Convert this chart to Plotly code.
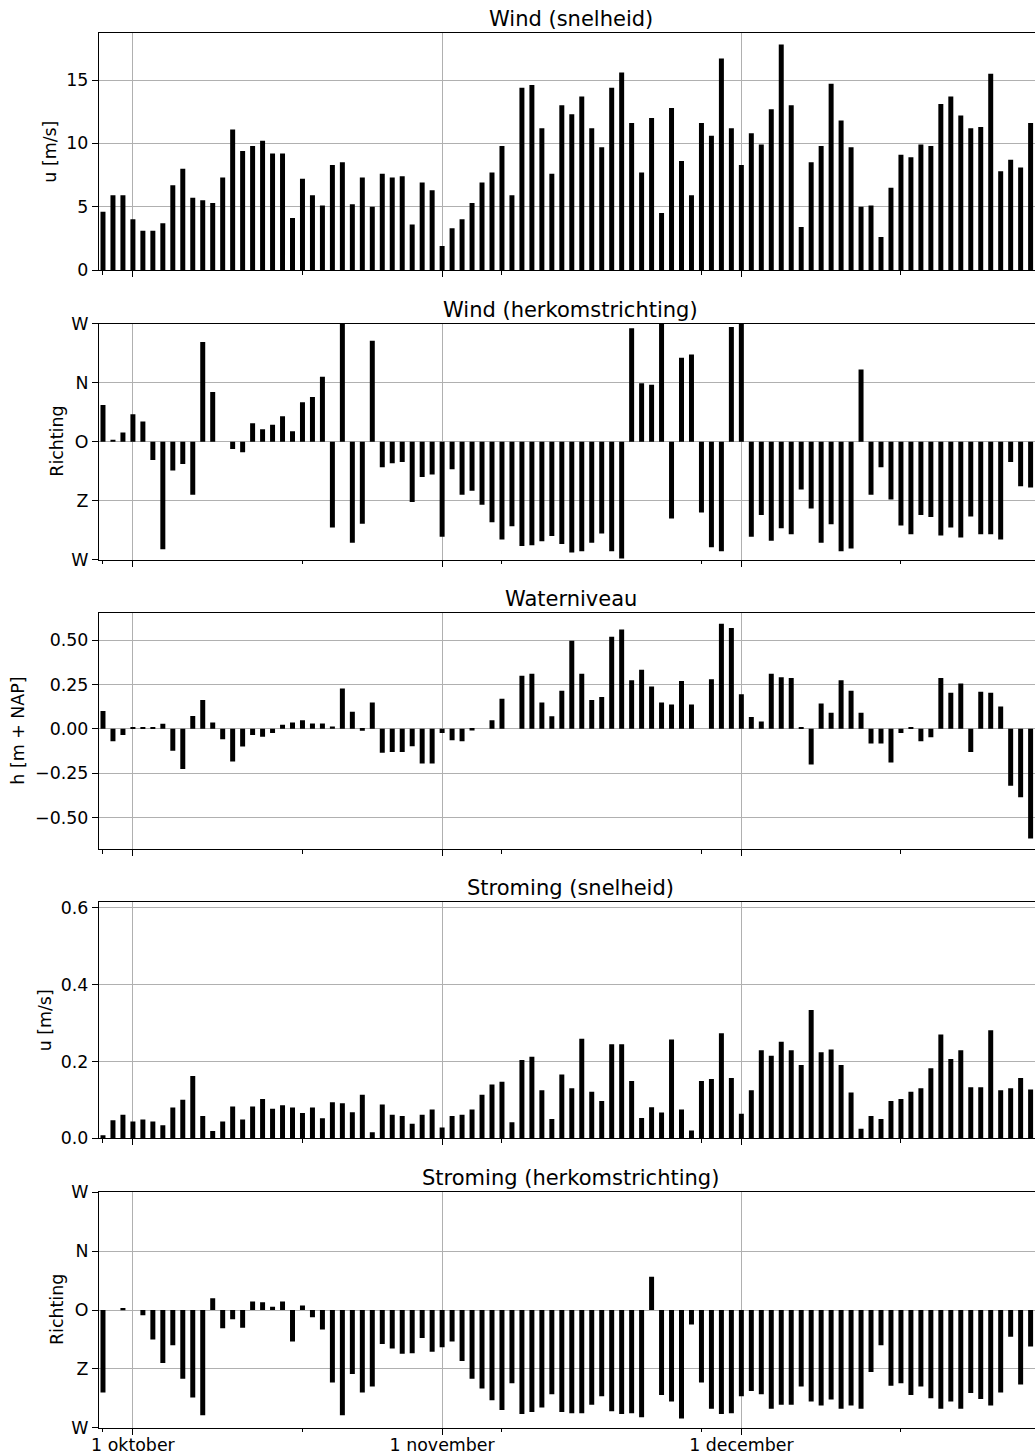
import pandas as pd
import plotly.graph_objects as go

# ---- data: daily values from 28 September ----
start_datum = "2023-09-28"
n_dagen = 94

wind_snelheid = [
    4.6, 5.9, 5.9, 4.0, 3.1, 3.1, 3.7, 6.7, 8.0, 5.7,
    5.5, 5.3, 7.3, 11.1, 9.4, 9.8, 10.2, 9.2, 9.2, 4.1,
    7.2, 5.9, 5.1, 8.3, 8.5, 5.2, 7.3, 5.0, 7.6, 7.3,
    7.4, 3.6, 6.9, 6.3, 1.9, 3.3, 4.0, 5.3, 6.9, 7.7,
    9.8, 5.9, 14.4, 14.6, 11.2, 7.6, 13.0, 12.3, 13.7, 11.2,
    9.7, 14.4, 15.6, 11.6, 7.7, 12.0, 4.5, 12.8, 8.6, 5.9,
    11.6, 10.6, 16.7, 11.2, 8.3, 10.8, 9.9, 12.7, 17.8, 13.0,
    3.4, 8.5, 9.8, 14.7, 11.8, 9.7, 5.0, 5.1, 2.6, 6.5,
    9.1, 8.9, 9.9, 9.8, 13.1, 13.7, 12.2, 11.2, 11.3, 15.5,
    7.8, 8.7, 8.1, 11.6,
]

# direction in degrees relative to east (O = 0, N = 90, W = +/-180, Z = -90)
wind_richting = [
    56, 3, 14, 42, 31, -28, -164, -44, -34, -81,
    152, 76, 0, -11, -16, 28, 19, 26, 39, 16,
    60, 68, 99, -131, 180, -154, -125, 154, -39, -33,
    -31, -92, -54, -50, -145, -42, -81, -75, -96, -123,
    -149, -129, -159, -158, -152, -144, -156, -169, -167, -154,
    -140, -167, -178, 173, 89, 87, 180, -117, 128, 133,
    -108, -161, -167, 175, 180, -145, -112, -151, -132, -141,
    -73, -102, -154, -126, -167, -163, 110, -81, -39, -88,
    -128, -141, -112, -115, -143, -131, -146, -114, -141, -141,
    -149, -31, -68, -70,
]

waterniveau = [
    0.100, -0.070, -0.035, 0.011, 0.008, 0.011, 0.028, -0.124, -0.226, 0.073,
    0.162, 0.036, -0.058, -0.184, -0.100, -0.034, -0.045, -0.024, 0.023, 0.036,
    0.049, 0.030, 0.030, 0.013, 0.227, 0.096, -0.011, 0.148, -0.135, -0.130,
    -0.130, -0.098, -0.195, -0.195, -0.023, -0.064, -0.070, -0.009, 0.000, 0.049,
    0.169, 0.000, 0.299, 0.310, 0.148, 0.071, 0.214, 0.496, 0.310, 0.162,
    0.179, 0.519, 0.560, 0.274, 0.333, 0.239, 0.148, 0.137, 0.269, 0.137,
    0.000, 0.280, 0.592, 0.568, 0.195, 0.066, 0.041, 0.310, 0.291, 0.286,
    0.006, -0.201, 0.143, 0.090, 0.274, 0.214, 0.090, -0.083, -0.083, -0.190,
    -0.023, 0.011, -0.070, -0.047, 0.286, 0.203, 0.256, -0.130, 0.209, 0.203,
    0.126, -0.321, -0.385, -0.618,
]

stroming_snelheid = [
    0.008, 0.047, 0.061, 0.044, 0.049, 0.044, 0.034, 0.080, 0.100, 0.162,
    0.058, 0.019, 0.044, 0.083, 0.049, 0.083, 0.102, 0.077, 0.086, 0.080,
    0.066, 0.080, 0.052, 0.094, 0.091, 0.068, 0.113, 0.016, 0.088, 0.061,
    0.058, 0.038, 0.061, 0.075, 0.028, 0.058, 0.061, 0.075, 0.113, 0.140,
    0.147, 0.042, 0.204, 0.212, 0.125, 0.050, 0.166, 0.130, 0.259, 0.121,
    0.097, 0.245, 0.245, 0.149, 0.053, 0.081, 0.067, 0.257, 0.075, 0.020,
    0.149, 0.154, 0.273, 0.157, 0.064, 0.125, 0.229, 0.215, 0.251, 0.229,
    0.191, 0.334, 0.224, 0.231, 0.191, 0.119, 0.025, 0.058, 0.050, 0.097,
    0.102, 0.121, 0.130, 0.182, 0.270, 0.206, 0.229, 0.133, 0.133, 0.281,
    0.125, 0.130, 0.157, 0.127,
]

stroming_richting = [
    -126, 0, 3, 0, -8, -45, -81, -54, -105, -134,
    -161, 18, -28, -14, -27, 13, 12, 5, 13, -48,
    7, -11, -30, -111, -161, -98, -126, -117, -52, -59,
    -67, -66, -43, -64, -57, -48, -78, -105, -120, -138,
    -153, -112, -159, -156, -149, -129, -156, -158, -158, -145,
    -132, -155, -159, -158, -164, 51, -130, -140, -166, -22,
    -111, -151, -159, -158, -132, -124, -129, -151, -145, -145,
    -117, -140, -146, -137, -151, -146, -151, -95, -54, -116,
    -112, -130, -117, -135, -151, -140, -151, -127, -136, -146,
    -126, -41, -114, -56,
]

maand_datums = ["2023-10-01", "2023-11-01", "2023-12-01"]
maand_labels = ["1 oktober", "1 november", "1 december"]

richting_waarden = [-180, -90, 0, 90, 180]
richting_labels = ["W", "Z", "O", "N", "W"]

niveau_waarden = [-0.5, -0.25, 0.0, 0.25, 0.5]
niveau_labels = ["\u22120.50", "\u22120.25", "0.00", "0.25", "0.50"]

titels = ["Wind (snelheid)", "Wind (herkomstrichting)", "Waterniveau",
          "Stroming (snelheid)", "Stroming (herkomstrichting)"]
y_labels = ["u [m/s]", "Richting", "h [m + NAP]", "u [m/s]", "Richting"]

# ---- layout ----
W, H = 1035, 1456
FONT = "DejaVu Sans"
TICK_SIZE = 17.4
GRID = "#b0b0b0"
dagen = pd.date_range(start_datum, periods=n_dagen, freq="D")
dag_ms = 86400000
t0 = pd.Timestamp(start_datum)
x_range = [str(t0 - pd.Timedelta(days=0.43)), str(t0 + pd.Timedelta(days=93.44))]
minor_ticks = [str(d.date()) for d in dagen[::20]]

left_px = 98.7
panel_px = [(33.3, 270.0), (323.7, 559.7), (613.0, 849.3), (902.3, 1138.3), (1192.3, 1427.7)]
ylabel_x_px = [50, 57, 18.5, 45, 57]

span = max(waterniveau) - min(waterniveau)
y_ranges = [
    [0, 1.05 * max(wind_snelheid)],
    [-180, 180],
    [min(waterniveau) - 0.05 * span, max(waterniveau) + 0.05 * span],
    [0, 0.614],
    [-180, 180],
]
y_ticks = [
    dict(tickmode="array", tickvals=[0, 5, 10, 15], ticktext=["0", "5", "10", "15"]),
    dict(tickmode="array", tickvals=richting_waarden, ticktext=richting_labels),
    dict(tickmode="array", tickvals=niveau_waarden, ticktext=niveau_labels),
    dict(tickmode="array", tickvals=[0, 0.2, 0.4, 0.6], ticktext=["0.0", "0.2", "0.4", "0.6"]),
    dict(tickmode="array", tickvals=richting_waarden, ticktext=richting_labels),
]
reeksen = [wind_snelheid, wind_richting, waterniveau, stroming_snelheid, stroming_richting]

fig = go.Figure()
layout = dict(
    template="none",
    width=W, height=H,
    margin=dict(l=0, r=0, t=0, b=0, pad=0, autoexpand=False),
    paper_bgcolor="white", plot_bgcolor="white",
    font=dict(family=FONT, size=TICK_SIZE, color="black"),
    showlegend=False,
)
annotations = []

for i, (vals, (top, bot)) in enumerate(zip(reeksen, panel_px), start=1):
    laatste = i == len(reeksen)
    fig.add_trace(go.Bar(
        x=dagen, y=vals, width=0.5 * dag_ms,
        marker=dict(color="black", line=dict(width=0)),
        xaxis=f"x{i}", yaxis=f"y{i}", hoverinfo="skip",
    ))
    xa = dict(
        type="date", domain=[left_px / W, 1.0], anchor=f"y{i}", range=x_range,
        automargin=False,
        tickmode="array", tickvals=maand_datums,
        ticktext=maand_labels, showticklabels=laatste, ticklabelstandoff=-5,
        ticks="outside", ticklen=6, tickwidth=1, tickcolor="black",
        showgrid=True, gridcolor=GRID, gridwidth=1,
        showline=True, linecolor="black", linewidth=1, mirror=True,
        zeroline=False, tickfont=dict(family=FONT, size=TICK_SIZE, color="black"),
        minor=dict(tickmode="array", tickvals=minor_ticks, ticks="outside",
                   ticklen=3.5, tickwidth=1, tickcolor="black", showgrid=False),
    )
    if i > 1:
        xa["matches"] = "x"
    ya = dict(
        domain=[1 - bot / H, 1 - top / H], anchor=f"x{i}", range=y_ranges[i - 1],
        automargin=False,
        ticks="outside", ticklen=5.8, tickwidth=1, tickcolor="black",
        showgrid=True, gridcolor=GRID, gridwidth=1,
        showline=True, linecolor="black", linewidth=1, mirror=False,
        zeroline=False, tickfont=dict(family=FONT, size=TICK_SIZE, color="black"),
        **y_ticks[i - 1],
    )
    layout["xaxis" if i == 1 else f"xaxis{i}"] = xa
    layout["yaxis" if i == 1 else f"yaxis{i}"] = ya

    annotations.append(dict(
        text=titels[i - 1], xref="paper", yref="paper",
        x=570.5 / W, y=1 - (top - 14.1) / H, xanchor="center", yanchor="middle",
        showarrow=False, font=dict(family=FONT, size=21, color="black"),
    ))
    annotations.append(dict(
        text=y_labels[i - 1], xref="paper", yref="paper",
        x=ylabel_x_px[i - 1] / W, y=1 - (top + bot) / 2 / H,
        xanchor="center", yanchor="middle", textangle=-90,
        showarrow=False, font=dict(family=FONT, size=TICK_SIZE, color="black"),
    ))

layout["annotations"] = annotations
fig.update_layout(**layout)
fig.write_html("out.html", config={"displayModeBar": False})
